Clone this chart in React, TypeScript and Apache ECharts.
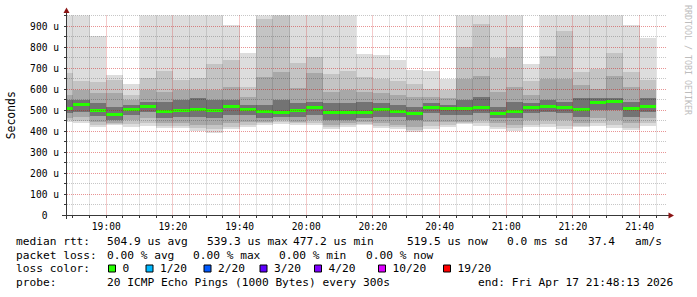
import React, { useEffect, useRef } from "react";
import * as echarts from "echarts";

// ---- data ----
const startTime = "18:48:13";
const endTime = "21:48:13";
const stepSeconds = 300;
const barEnds = [
  "18:50", "18:55", "19:00", "19:05", "19:10", "19:15", "19:20", "19:25", "19:30",
  "19:35", "19:40", "19:45", "19:50", "19:55", "20:00", "20:05", "20:10", "20:15",
  "20:20", "20:25", "20:30", "20:35", "20:40", "20:45", "20:50", "20:55", "21:00",
  "21:05", "21:10", "21:15", "21:20", "21:25", "21:30", "21:35", "21:40", "21:45",
];
// ping distribution (microseconds), outermost to innermost
const pingMax = [960, 960, 852, 667, 624, 960, 960, 960, 960, 960, 906, 770, 960, 960, 960, 960, 960, 960, 768, 762, 738, 690, 686, 650, 960, 960, 960, 960, 719, 960, 960, 960, 960, 960, 905, 843];
const pingUp2 = [675, 640, 635, 643, 571, 651, 688, 643, 651, 719, 736, 611, 933, 960, 725, 754, 671, 687, 659, 646, 640, 624, 600, 595, 798, 908, 746, 798, 640, 757, 876, 682, 694, 770, 682, 643];
const pingUp3 = [571, 595, 579, 579, 548, 595, 587, 595, 595, 595, 611, 563, 659, 680, 603, 675, 587, 595, 587, 579, 571, 563, 563, 556, 650, 660, 587, 611, 571, 650, 650, 620, 598, 660, 610, 595];
const pingUp4 = [548, 548, 532, 516, 524, 540, 540, 548, 556, 548, 548, 524, 524, 548, 532, 540, 532, 532, 540, 532, 524, 516, 532, 524, 548, 563, 516, 540, 532, 548, 540, 556, 556, 556, 540, 556];
const medianRtt = [508, 524, 497, 477, 501, 518, 492, 497, 501, 500, 519, 503, 491, 490, 498, 510, 489, 486, 488, 502, 491, 485, 510, 506, 508, 514, 484, 491, 511, 519, 511, 503, 537, 540, 508, 519];
const pingLo4 = [486, 492, 471, 452, 476, 492, 460, 468, 468, 460, 476, 476, 460, 468, 468, 476, 452, 452, 460, 468, 465, 452, 484, 476, 476, 484, 460, 460, 484, 492, 484, 468, 500, 500, 468, 492];
const pingLo3 = [462, 468, 444, 437, 452, 460, 436, 436, 429, 429, 437, 444, 444, 452, 444, 452, 429, 437, 444, 437, 429, 420, 444, 444, 444, 452, 437, 429, 452, 452, 452, 437, 460, 452, 437, 460];
const pingLo2 = [452, 450, 428, 432, 432, 440, 422, 422, 415, 410, 420, 430, 436, 442, 436, 440, 418, 428, 434, 424, 418, 405, 425, 430, 436, 438, 420, 412, 430, 432, 425, 425, 438, 430, 415, 440];
const pingMin = [444, 436, 417, 429, 420, 426, 413, 416, 402, 392, 408, 421, 430, 435, 428, 428, 410, 418, 427, 413, 410, 396, 411, 420, 432, 426, 410, 402, 417, 420, 408, 418, 424, 413, 403, 423];
const lossCount = [0, 0, 0, 0, 0, 0, 0, 0, 0, 0, 0, 0, 0, 0, 0, 0, 0, 0, 0, 0, 0, 0, 0, 0, 0, 0, 0, 0, 0, 0, 0, 0, 0, 0, 0, 0];

const yTicks = [0, 100, 200, 300, 400, 500, 600, 700, 800, 900];
const xTickLabels = ["19:00", "19:20", "19:40", "20:00", "20:20", "20:40", "21:00", "21:20", "21:40"];

const medianStats = ["504.9 us avg", "539.3 us max", "477.2 us min", "519.5 us now", "0.0 ms sd", "37.4", "am/s"];
const lossStats = ["0.00 % avg", "0.00 % max", "0.00 % min", "0.00 % now"];
const lossLegendLabels = ["0", "1/20", "2/20", "3/20", "4/20", "10/20", "19/20"];
const lossLegendColors = ["#26ff00", "#00b8ff", "#0059ff", "#5e00ff", "#7e00ff", "#dd00ff", "#ff0000"];
const lossLegendLevels = [0, 1, 2, 3, 4, 10, 19];
const probeText = "20 ICMP Echo Pings (1000 Bytes) every 300s";
const endText = "end: Fri Apr 17 21:48:13 2026";

// ---- helpers ----
const toSec = (s: string) => {
  const p = s.split(":").map(Number);
  return p[0] * 3600 + p[1] * 60 + (p[2] || 0);
};
const fmt = (sec: number) => {
  const h = Math.floor(sec / 3600);
  const m = Math.round((sec - h * 3600) / 60);
  return `${String(h).padStart(2, "0")}:${String(m).padStart(2, "0")}`;
};
const lossColorOf = (n: number) => {
  let c = lossLegendColors[0];
  lossLegendLevels.forEach((lv, i) => {
    if (n >= lv) c = lossLegendColors[i];
  });
  return c;
};

const T0 = toSec(startTime);
const T1 = toSec(endTime);
const YMAX = 950;
const FONT = "DejaVu Sans Mono";

export default function App() {
  const ref = useRef<HTMLDivElement>(null);
  useEffect(() => {
    const chart = echarts.init(ref.current!, null, { renderer: "svg" });

    const smokeData = barEnds.map((e, i) => {
      const t1 = toSec(e);
      const t0 = Math.max(T0, t1 - stepSeconds);
      return [t0, t1, pingMin[i], pingLo2[i], pingLo3[i], pingLo4[i], medianRtt[i], pingUp4[i], pingUp3[i], pingUp2[i], pingMax[i], lossCount[i]];
    });

    // grid lines (every 5 min minor, every 20 min major)
    const vLines: number[][] = [];
    const firstMinor = Math.ceil(T0 / stepSeconds) * stepSeconds;
    const majorSet = new Set(xTickLabels.map(toSec));
    for (let t = firstMinor; t <= T1; t += stepSeconds) vLines.push([t, majorSet.has(t) ? 1 : 0]);
    const hLines: number[][] = [];
    for (let v = 50; v <= YMAX; v += 50) hLines.push([v, v % 100 === 0 ? 1 : 0]);

    const snap = (v: number) => Math.floor(v + 0.001) + 0.5;
    const minorColor = "rgba(0,0,0,0.22)";
    const majorColor = "rgba(200,0,0,0.42)";
    const axisColor = "#383838";

    const bands = ["#dddddd", "#c4c4c4", "#a8a8a8", "#737373"];

    const legendGraphics: any[] = [];
    const txt = (text: string, x: number, y: number) => ({
      type: "text",
      x,
      y,
      style: { text, font: `11.2px '${FONT}'`, fill: "#000", textVerticalAlign: "middle", textAlign: "left" },
    });
    const y1 = 241, y2 = 255, y3 = 268.5, y4 = 282.5;
    legendGraphics.push(txt("median rtt:", 16, y1));
    [107, 207, 293, 407, 507, 588, 635].forEach((x, i) => legendGraphics.push(txt(medianStats[i], x, y1)));
    legendGraphics.push(txt("packet loss:", 16, y2));
    [107, 193, 279, 366].forEach((x, i) => legendGraphics.push(txt(lossStats[i], x, y2)));
    legendGraphics.push(txt("loss color:", 16, y3));
    [108.5, 146, 204, 260, 314.5, 378.5, 443.5].forEach((x, i) => {
      legendGraphics.push({
        type: "rect",
        shape: { x: x, y: y3 - 3.5, width: 7, height: 7 },
        style: { fill: lossLegendColors[i], stroke: "#000", lineWidth: 1 },
      });
      legendGraphics.push(txt(lossLegendLabels[i], x + 14, y3));
    });
    legendGraphics.push(txt("probe:", 16, y4));
    legendGraphics.push(txt(probeText, 107, y4));
    legendGraphics.push(txt(endText, 478, y4));

    // axes lines and arrows
    legendGraphics.push({ type: "line", shape: { x1: 66.5, y1: 12, x2: 66.5, y2: 219 }, style: { stroke: axisColor, lineWidth: 1 }, z: 20 });
    legendGraphics.push({ type: "line", shape: { x1: 62, y1: 215.5, x2: 669, y2: 215.5 }, style: { stroke: axisColor, lineWidth: 1 }, z: 20 });
    legendGraphics.push({ type: "polygon", shape: { points: [[66.5, 7.5], [63.5, 13], [69.5, 13]] }, style: { fill: "#8b1414" }, z: 20 });
    legendGraphics.push({ type: "polygon", shape: { points: [[674, 215.5], [668.5, 212.5], [668.5, 218.5]] }, style: { fill: "#8b1414" }, z: 20 });
    // watermark
    legendGraphics.push({
      type: "text",
      x: 688,
      y: 5,
      rotation: -Math.PI / 2,
      style: { text: "RRDTOOL / TOBI OETIKER", font: `8.3px '${FONT}'`, fill: "#bdbdbd", textAlign: "left", textVerticalAlign: "middle" },
    });

    chart.setOption({
      animation: false,
      backgroundColor: "#ffffff",
      grid: { left: 67, top: 215 - 199.5, width: 600, height: 199.5, show: false, containLabel: false, outerBoundsMode: "none" },
      xAxis: {
        type: "value",
        min: T0,
        max: T1,
        axisLine: { show: false },
        axisTick: { show: false },
        splitLine: { show: false },
        axisLabel: {
          customValues: xTickLabels.map(toSec),
          formatter: (v: number) => fmt(v),
          fontFamily: FONT,
          fontSize: 9.6,
          color: "#000",
          margin: 6,
        },
      },
      yAxis: {
        type: "value",
        min: 0,
        max: YMAX,
        name: "Seconds",
        nameLocation: "middle",
        nameRotate: 90,
        nameGap: 51,
        nameTextStyle: { fontFamily: FONT, fontSize: 11.4, color: "#000" },
        axisLine: { show: false },
        axisTick: { show: false },
        splitLine: { show: false },
        axisLabel: {
          customValues: yTicks,
          formatter: (v: number) => (v === 0 ? "0\u00a0\u00a0" : `${v} u`),
          fontFamily: FONT,
          fontSize: 9.6,
          color: "#000",
          margin: 8,
        },
      },
      series: [
        {
          type: "custom",
          name: "smoke",
          clip: true,
          z: 2,
          data: smokeData,
          encode: { x: [0, 1], y: [2, 10] },
          renderItem: (params: any, api: any) => {
            const t0 = api.value(0), t1 = api.value(1);
            const xa = Math.round(api.coord([t0, 0])[0]);
            const xb = Math.round(api.coord([t1, 0])[0]);
            const pairs = [
              [api.value(2), api.value(10)],
              [api.value(3), api.value(9)],
              [api.value(4), api.value(8)],
              [api.value(5), api.value(7)],
            ];
            const children: any[] = pairs.map((p, k) => {
              const yt = Math.round(api.coord([t0, p[1]])[1]);
              const yb = Math.round(api.coord([t0, p[0]])[1]);
              return { type: "rect", shape: { x: xa, y: yt, width: xb - xa, height: yb - yt }, style: { fill: bands[k] } };
            });
            const ym = api.coord([t0, api.value(6)])[1];
            children.push({
              type: "rect",
              shape: { x: xa, y: Math.round(ym - 1.5), width: xb - xa, height: 3 },
              style: { fill: lossColorOf(api.value(11)) },
            });
            return { type: "group", children };
          },
        },
        {
          type: "custom",
          name: "vgrid",
          clip: false,
          silent: true,
          z: 5,
          data: vLines,
          encode: { x: 0 },
          renderItem: (params: any, api: any) => {
            const t = api.value(0);
            const x = snap(api.coord([t, 0])[0]);
            const yb = api.coord([t, 0])[1];
            const yt = api.coord([t, YMAX])[1];
            return {
              type: "group",
              children: [
                { type: "line", shape: { x1: x, y1: yt, x2: x, y2: yb }, style: { stroke: api.value(1) ? majorColor : minorColor, lineWidth: 1, lineDash: [1, 1] } },
                { type: "line", shape: { x1: x, y1: yb, x2: x, y2: yb + 3 }, style: { stroke: axisColor, lineWidth: 1 } },
              ],
            };
          },
        },
        {
          type: "custom",
          name: "hgrid",
          clip: false,
          silent: true,
          z: 5,
          data: hLines,
          encode: { y: 0 },
          renderItem: (params: any, api: any) => {
            const v = api.value(0);
            const y = snap(api.coord([T0, v])[1]);
            const xl = api.coord([T0, v])[0];
            const xr = api.coord([T1, v])[0];
            return {
              type: "group",
              children: [
                { type: "line", shape: { x1: xl, y1: y, x2: xr, y2: y }, style: { stroke: api.value(1) ? majorColor : minorColor, lineWidth: 1, lineDash: [1, 1] } },
                { type: "line", shape: { x1: xl - 3, y1: y, x2: xl, y2: y }, style: { stroke: axisColor, lineWidth: 1 } },
              ],
            };
          },
        },
      ],
      graphic: legendGraphics,
    });
    return () => chart.dispose();
  }, []);
  return <div ref={ref} style={{ position: "absolute", left: 0, top: 0, width: 697, height: 297 }} />;
}
